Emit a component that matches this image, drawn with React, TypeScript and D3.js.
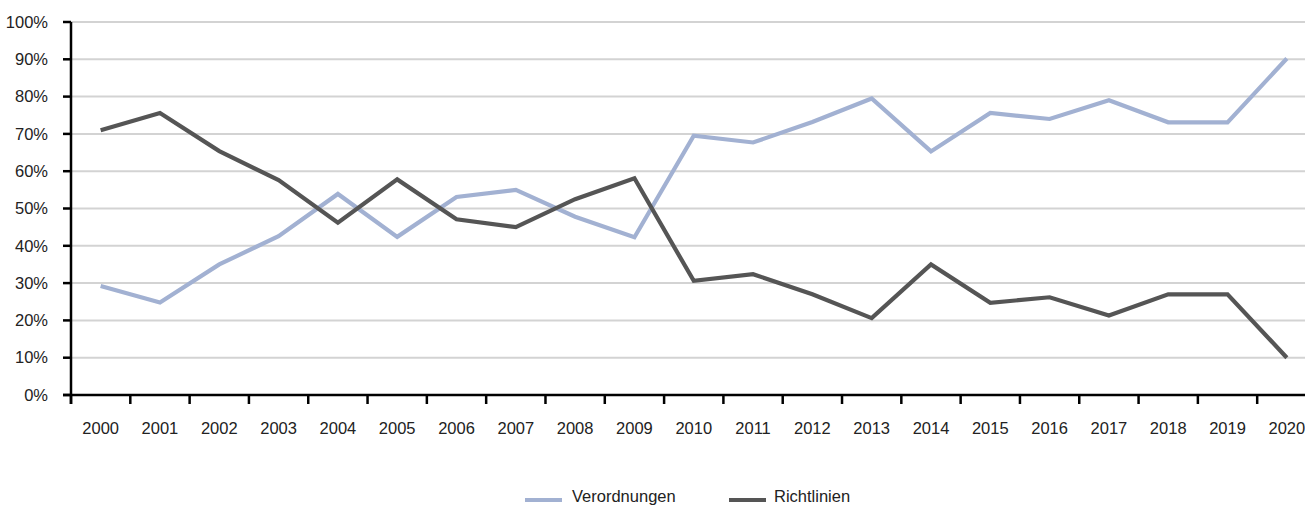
import React from "react";
import * as d3 from "d3";

const years = ["2000","2001","2002","2003","2004","2005","2006","2007","2008","2009","2010","2011","2012","2013","2014","2015","2016","2017","2018","2019","2020"];
const verordnungen = [29.2,24.8,35.0,42.6,53.9,42.4,53.1,55.0,47.8,42.3,69.5,67.7,73.2,79.5,65.3,75.6,74.0,79.0,73.1,73.1,90.2];
const richtlinien = [71.0,75.6,65.4,57.6,46.2,57.8,47.1,45.0,52.5,58.1,30.6,32.4,27.0,20.6,35.0,24.7,26.2,21.3,27.0,27.0,10.0];
const yTicks = [0,10,20,30,40,50,60,70,80,90,100];
const seriesNames = ["Verordnungen","Richtlinien"];
const colors = ["#a2b1d2","#555555"];

const W = 1305, H = 506;
const left = 71, right = 1316.5, top = 22, bottom = 395;
const FONT = "'Liberation Sans', Arial, sans-serif";

export default function App() {
  const x = d3.scaleBand<string>().domain(years).range([left, right]);
  const y = d3.scaleLinear().domain([0, 100]).range([bottom, top]);
  const line = d3.line<number>().x((_, i) => (x(years[i]) as number) + x.bandwidth() / 2).y(d => y(d));
  const series = [verordnungen, richtlinien];
  const boundaries = years.map(yr => x(yr) as number);
  return (
    <svg width={W} height={H} style={{ position: "absolute", left: 0, top: 0, background: "#fff" }} fontFamily={FONT}>
      {yTicks.filter(t => t > 0).map(t => (
        <line key={"g" + t} x1={left} x2={W} y1={y(t)} y2={y(t)} stroke="#d3d3d3" strokeWidth={2} />
      ))}
      {series.map((s, i) => (
        <path key={"s" + i} d={line(s) || ""} fill="none" stroke={colors[i]} strokeWidth={4.2} strokeLinejoin="miter" />
      ))}
      <line x1={left} x2={left} y1={top} y2={bottom + 9} stroke="#000" strokeWidth={2.5} />
      <line x1={left - 8} x2={W} y1={bottom} y2={bottom} stroke="#000" strokeWidth={2.5} />
      {yTicks.map(t => (
        <g key={"yt" + t}>
          <line x1={left - 8} x2={left} y1={y(t)} y2={y(t)} stroke="#000" strokeWidth={2.5} />
          <text x={48} y={y(t)} dy="0.35em" textAnchor="end" fontSize={16.5} fill="#222">{t + "%"}</text>
        </g>
      ))}
      {boundaries.map((b, i) => (
        <line key={"xt" + i} x1={b} x2={b} y1={bottom} y2={bottom + 9} stroke="#000" strokeWidth={2.5} />
      ))}
      {years.map(yr => (
        <text key={"xl" + yr} x={(x(yr) as number) + x.bandwidth() / 2} y={434} textAnchor="middle" fontSize={16.5} fill="#222">{yr}</text>
      ))}
      <g>
        <line x1={525} x2={562} y1={500} y2={500} stroke={colors[0]} strokeWidth={4} />
        <text x={572} y={502} fontSize={16.5} fill="#222">{seriesNames[0]}</text>
        <line x1={729} x2={766} y1={500} y2={500} stroke={colors[1]} strokeWidth={4} />
        <text x={774} y={502} fontSize={16.5} fill="#222">{seriesNames[1]}</text>
      </g>
    </svg>
  );
}
